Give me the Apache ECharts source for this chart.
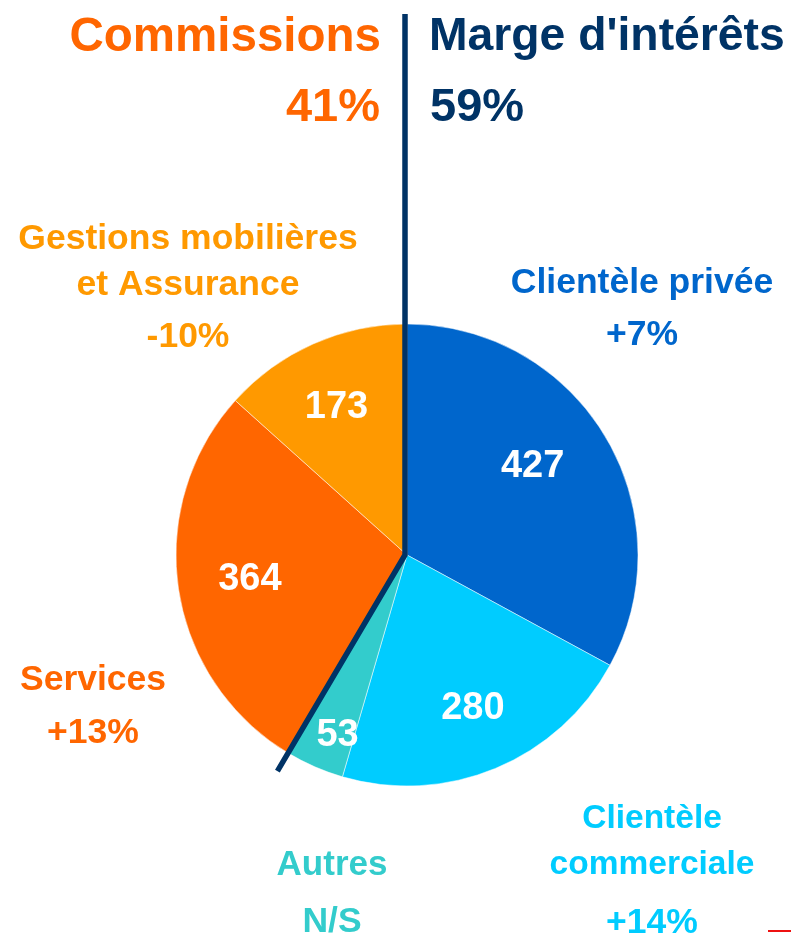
<!DOCTYPE html>
<html>
<head>
<meta charset="utf-8">
<script src="https://cdn.jsdelivr.net/npm/echarts@6/dist/echarts.min.js"></script>
<style>
  html, body { margin: 0; padding: 0; background: #fff; }
  #chart { width: 791px; height: 934px; }
</style>
</head>
<body>
<div id="chart"></div>
<script>
// données
let segmentNames = ['Clientèle privée', 'Clientèle commerciale', 'Autres', 'Services', 'Gestions mobilières et Assurance'];
let segmentLabels = ['Clientèle privée', 'Clientèle\ncommerciale', 'Autres', 'Services', 'Gestions mobilières\net Assurance'];
let segmentValues = [427, 280, 53, 364, 173];
let segmentChanges = ['+7%', '+14%', 'N/S', '+13%', '-10%'];
let groupNames = ['Marge d\'intérêts', 'Commissions'];
let groupShares = ['59%', '41%'];

// mise en page
let colors = ['#0066cc', '#00ccff', '#33cccc', '#ff6600', '#ff9900'];
let navy = '#003366';
let center = [407, 555];
let radius = 231;
// [x, y du nom (dernière ligne), y de la variation, taille]
let labelPos = [[642, 280, 332, 35.5], [652, 862, 920, 33.5], [332, 862, 919, 35], [93, 677, 730, 35.5], [188, 282, 334, 35.5]];
let valueOffset = [[-17, -4], [2, 0], [-3, 28], [7, 0], [-3, 4]];
let fontFamily = '"Liberation Sans", Arial, sans-serif';

let myChart = echarts.init(document.getElementById('chart'));

let pieData = segmentNames.map((n, i) => ({
    name: n,
    value: segmentValues[i],
    itemStyle: {color: colors[i]}
}));
let ringData = segmentNames.map((n, i) => ({
    name: n,
    value: segmentValues[i],
    label: {offset: valueOffset[i]}
}));

// ligne de séparation marge / commissions
let total = segmentValues.reduce((a, b) => a + b, 0);
let cum = segmentValues[0] + segmentValues[1] + segmentValues[2];
let theta = cum / total * Math.PI * 2;
let lineLen = radius + 21;
let lineEnd = [center[0] + lineLen * Math.sin(theta), center[1] - lineLen * Math.cos(theta)];

let graphics = [
    {
        type: 'polyline', z: 100,
        shape: {points: [[center[0] - 2, 14], [center[0] - 2, center[1]], lineEnd]},
        style: {stroke: navy, lineWidth: 5.5, fill: null, lineJoin: 'miter'}
    },
    {
        type: 'text', z: 100,
        style: {text: groupNames[1], x: 381, y: 37.5, align: 'right', verticalAlign: 'middle',
            fill: '#ff6600', font: 'bold 47.5px ' + fontFamily}
    },
    {
        type: 'text', z: 100,
        style: {text: groupShares[1], x: 380, y: 108, align: 'right', verticalAlign: 'middle',
            fill: '#ff6600', font: 'bold 47px ' + fontFamily}
    },
    {
        type: 'text', z: 100,
        style: {text: groupNames[0], x: 429, y: 37.5, align: 'left', verticalAlign: 'middle',
            fill: navy, font: 'bold 46.3px ' + fontFamily}
    },
    {
        type: 'text', z: 100,
        style: {text: groupShares[0], x: 430, y: 108, align: 'left', verticalAlign: 'middle',
            fill: navy, font: 'bold 47px ' + fontFamily}
    },
    {
        type: 'line', z: 100,
        shape: {x1: 768, y1: 931, x2: 791, y2: 931},
        style: {stroke: '#ee1111', lineWidth: 2}
    }
];

segmentLabels.forEach((txt, i) => {
    let p = labelPos[i];
    let font = 'bold ' + p[3] + 'px ' + fontFamily;
    graphics.push({
        type: 'text', z: 100,
        style: {text: txt, x: p[0], y: p[1] + 26, align: 'center', verticalAlign: 'bottom',
            lineHeight: 46, fill: colors[i], font: font}
    });
    graphics.push({
        type: 'text', z: 100,
        style: {text: segmentChanges[i], x: p[0], y: p[2] + 3, align: 'center', verticalAlign: 'middle',
            fill: colors[i], font: 'bold 35.5px ' + fontFamily}
    });
});

option = {
    animation: false,
    series: [
        {
            type: 'pie',
            center: center,
            radius: [0, radius],
            startAngle: 90,
            clockwise: true,
            silent: true,
            label: {show: false},
            labelLine: {show: false},
            itemStyle: {borderColor: '#ffffff', borderWidth: 0.5},
            data: pieData
        },
        {
            // anneau invisible pour placer les valeurs
            type: 'pie',
            center: center,
            radius: [95, radius],
            startAngle: 90,
            clockwise: true,
            silent: true,
            itemStyle: {color: 'rgba(0,0,0,0)'},
            label: {
                show: true,
                position: 'inside',
                formatter: '{c}',
                color: '#ffffff',
                fontFamily: fontFamily,
                fontWeight: 'bold',
                fontSize: 38
            },
            labelLine: {show: false},
            data: ringData
        }
    ],
    graphic: graphics
};

myChart.setOption(option);
</script>
</body>
</html>
